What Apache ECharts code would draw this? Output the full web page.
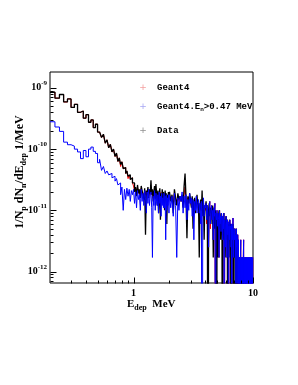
<!DOCTYPE html>
<html><head><meta charset="utf-8">
<script src="https://cdn.jsdelivr.net/npm/echarts@6/dist/echarts.min.js"></script>
<style>html,body{margin:0;padding:0;background:#fff}#c{width:298px;height:385px}</style>
</head><body><div id="c"></div>
<script>
// histogram binning: [from, to, width] in MeV
const binSegments = [[0.2, 1.0, 0.02], [1.0, 2.0, 0.02], [2.0, 10.0, 0.05]];
const valueUnit = 1e-12; // values below are in units of 1e-12 per MeV

// Geant4 (all)
const geant4All = [
  // 0.20 - 0.98
  850,680,780,590,660,480,540,400,420,320,365,275,300,225,255,190,200,155,175,125,
  142,105,120,90,100,76,86,63,72,52,62,48,50,40,44,33,38,32,34,28,
  // 1.00 - 1.98
  25,21,22,18,24,19,21,17,23,20, 19,17,21,18,20,17,22,17,20,18,
  24,18,20,16,19,22,16,22,18,15, 19,14,17,20,13,18,16,20,15,18,
  16,13,19,15,17,12,17,14,18,15,
  // 2.00 - 9.95
  18,15,17,12,19,15,13,17,14,16, 14,17,12,18,24,15,10,16,13,17,
  14,12,15,9,13,15,10,13,15,12, 13,8,12,12,10,14,9,12,8,12,
  10,13,6,12,8,2.5,11,14,5,10, 12,7,10,3.3,11,8,13,0,9,6,
  10,5,9,7,1.7,10,6,8,4,9, 7,3.3,8,5,9,0,7,6,2.5,8,
  6,1.7,7,4,6.5,0,5.5,3.3,7,5, 5,2.5,6,0,5.5,3.3,7.5,1.7,4.5,5,
  3.3,5,1.7,4,0,5,2.5,3.3,0,4, 1.7,3.3,0,1.7,0,1.7,0,1.7,3.3,0,
  1.7,0,1.7,0,1.7,0,1.7,3.3,0,1.7, 0,1.7,0,1.7,0,1.7,0,1.7,0,1.7,
  0,1.7,0,1.7,0,1.7,0,1.7,0,1.7, 0,1.7,0,1.7,0,1.7,0,1.7,0,1.7
];
// Geant4, E_n > 0.47 MeV
const geant4En = [
  // 0.20 - 0.98
  280,230,195,130,118,112,100,90,70,95,75,100,108,92,85,60,68,45,52,40,
  44,38,40,34,36,30,33,26,28,18,24,10,22,15,23,17,22,14,21,18,
  // 1.00 - 1.98
  22,13,20,11,21,15,18,10,22,14, 19,12,21,16,9,20,13,22,12,18,
  20,11,1.7,17,12,21,10,19,14,12, 18,9,20,13,17,8,19,12,16,11,
  19,11,17,3.3,18,10,16,12,18,9,
  // 2.00 - 9.95
  18,11,17,8,19,12,1.7,16,10,17, 14,20,9,17,11,18,7,15,10,19,
  13,16,8,15,3.3,14,10,17,9,13, 15,9,13,6,14,0,11,16,8,12,
  11,13,7,12,8,2.5,11,14,6,10, 12,7,10,3.3,11,8,13,0,9,7,
  10,5.5,9,7,1.7,10,6,8,4.5,9, 7.5,3.3,8,5,9,0,7,6,2.5,8,
  6.5,1.7,7,4,6.5,0,5.5,3.3,7,5, 5.5,2.5,6,0,5.5,3.3,7.5,1.7,4.5,5,
  3.3,5,1.7,4,0,5,2.5,3.3,0,4, 1.7,3.3,0,1.7,0,1.7,0,1.7,3.3,0,
  1.7,0,1.7,0,1.7,0,1.7,3.3,0,1.7, 0,1.7,0,1.7,0,1.7,0,1.7,0,1.7,
  0,1.7,0,1.7,0,1.7,0,1.7,0,1.7, 0,1.7,0,1.7,0,1.7,0,1.7,0,1.7
];
// Data
const dataMeas = [
  // 0.20 - 0.98
  850,680,780,590,660,480,540,400,420,320,365,275,300,225,255,190,200,155,175,125,
  142,105,120,90,100,76,86,63,72,56,62,48,50,40,44,36,38,32,34,28,
  // 1.00 - 1.98
  28,20,24,17,26,19,22,16,25,21, 20,15,23,4,21,18,24,16,22,19,
  31,18,22,14,20,25,15,27,19,12, 21,9,18,23,7,19,16,22,13,20,
  17,10,21,15,19,6,18,14,20,16,
  // 2.00 - 9.95
  20,14,18,9,22,16,12,19,15,17, 14,18,11,25,40,16,3.5,17,13,19,
  15,11,17,5,14,16,9,13,18,12, 13,1.7,12,15,10,21,8,13,3.3,12,
  11,14,7,12,0,10,13,8,11,9, 10,6,12,1.7,9,11,5,10,8,0,
  9,7,1.7,8,10,5,9,3.3,8,6, 8,0,7,6,9,3.3,7,1.7,6,8,
  6.5,3.3,7,0,6,5,1.7,7,4,6, 5.5,0,6,3.3,5,1.7,6,0,5,3.3,
  5,1.7,4,0,3.3,5,0,1.7,4,0, 1.7,0,0,1.7,0,0,1.7,0,0,0,
  0,0,1.7,0,0,0,0,1.7,0,0, 0,0,0,0,1.7,0,0,0,0,0,
  0,0,0,0,0,0,0,0,0,0, 0,0,0,0,0,0,0,0,0,0
];

const xRange = [0.2, 10];
const yRange = [6.5e-13, 1.82e-9];
const xMajorTicks = [1, 10];
const xMinorTicks = [0.3,0.4,0.5,0.6,0.7,0.8,0.9,2,3,4,5,6,7,8,9];
const yMajorTicks = [1e-12, 1e-11, 1e-10, 1e-9];
const yMinorTicks = [7e-13,8e-13,9e-13,
  2e-12,3e-12,4e-12,5e-12,6e-12,7e-12,8e-12,9e-12,
  2e-11,3e-11,4e-11,5e-11,6e-11,7e-11,8e-11,9e-11,
  2e-10,3e-10,4e-10,5e-10,6e-10,7e-10,8e-10,9e-10];
const legendNames = ['Geant4', 'Geant4.E{s|n}>0.47 MeV', 'Data'];
const seriesColors = ['#ff0000', '#0000ff', '#000000'];
const legendMarkColors = ['#f4a0a0', '#a8a8f4', '#909090'];

// bin edges
const edges = [];
binSegments.forEach(([a, b, w], si) => {
  const n = Math.round((b - a) / w);
  for (let i = 0; i < n; i++) edges.push(Math.round((a + i * w) * 10000) / 10000);
  if (si === binSegments.length - 1) edges.push(b);
});

function histPoints(vals) {
  const pts = [];
  for (let i = 0; i < vals.length; i++) {
    const v = vals[i] > 0 ? vals[i] * valueUnit : 1e-16;
    pts.push([edges[i], v], [edges[i + 1], v]);
  }
  return pts;
}

const serif = 'Liberation Serif';
const mono = 'Liberation Mono';

function tickSeries(list, isX, len) {
  return {
    type: 'custom', coordinateSystem: 'cartesian2d', silent: true, clip: false, z: 10,
    data: list.map(v => isX ? [v, yRange[0]] : [xRange[0], v]),
    renderItem: (params, api) => {
      const p = api.coord([api.value(0), api.value(1)]);
      const x = Math.round(p[0]) + 0.5, y = Math.round(p[1]) + 0.5;
      return {
        type: 'line',
        shape: isX ? {x1: x, y1: y, x2: x, y2: y - len} : {x1: x, y1: y, x2: x + len, y2: y},
        style: {stroke: '#000', lineWidth: 1}
      };
    }
  };
}

const chart = echarts.init(document.getElementById('c'), null, {renderer: 'canvas'});
const subRich = {s: {fontFamily: serif, fontWeight: 'bold', fontSize: 8, padding: [7, 0, 0, 0]}};

const graphic = [
  {type: 'text', x: 20, y: 172, rotation: Math.PI / 2,
   style: {text: '1/N{s|p} dN{s|n}/dE{s|dep} 1/MeV', fontFamily: serif, fontWeight: 'bold', fontSize: 12,
           fill: '#000', align: 'center', verticalAlign: 'middle', rich: subRich}},
  {type: 'text', x: 127, y: 304,
   style: {text: 'E{s|dep}  MeV', fontFamily: serif, fontWeight: 'bold', fontSize: 11,
           fill: '#000', align: 'left', verticalAlign: 'middle', rich: subRich}}
];
const legendY = [88, 107, 131];
legendNames.forEach((name, i) => {
  graphic.push({type: 'text', x: 143, y: legendY[i],
    style: {text: '+', fontFamily: 'DejaVu Sans', fontSize: 9, fill: legendMarkColors[i], align: 'center', verticalAlign: 'middle'}});
  graphic.push({type: 'text', x: 157, y: legendY[i],
    style: {text: name, fontFamily: mono, fontWeight: 'bold', fontSize: 9, fill: '#000', align: 'left', verticalAlign: 'middle',
            rich: {s: {fontFamily: mono, fontWeight: 'bold', fontSize: 6, padding: [5, 0, 0, 0]}}}});
});

chart.setOption({
  animation: false,
  grid: {left: 50, top: 72, right: 45, bottom: 102, show: true, borderColor: '#000', borderWidth: 1, backgroundColor: 'transparent'},
  xAxis: {
    type: 'log', logBase: 10, min: xRange[0], max: xRange[1],
    axisLine: {show: false}, axisTick: {show: false}, splitLine: {show: false}, minorTick: {show: false},
    axisLabel: {
      margin: 5, color: '#000', fontFamily: serif, fontWeight: 'bold', fontSize: 10, showMinLabel: true, showMaxLabel: true,
      formatter: v => { const e = Math.log10(v); return Math.abs(e - Math.round(e)) < 1e-6 ? String(Math.round(Math.pow(10, Math.round(e)))) : ''; }
    }
  },
  yAxis: {
    type: 'log', logBase: 10, min: yRange[0], max: yRange[1],
    axisLine: {show: false}, axisTick: {show: false}, splitLine: {show: false}, minorTick: {show: false},
    axisLabel: {
      margin: 3, color: '#000',
      formatter: v => { const e = Math.log10(v); const r = Math.round(e); return Math.abs(e - r) < 1e-6 ? '{b|10}{e|' + r + '}' : ''; },
      rich: {
        b: {fontFamily: serif, fontWeight: 'bold', fontSize: 10, color: '#000'},
        e: {fontFamily: serif, fontWeight: 'bold', fontSize: 7, color: '#000', padding: [0, 0, 9, 0]}
      }
    }
  },
  graphic: graphic,
  series: [
    {name: 'Geant4', type: 'line', data: histPoints(geant4All), showSymbol: false, lineStyle: {color: seriesColors[0], width: 1}, clip: true},
    {name: 'Data', type: 'line', data: histPoints(dataMeas), showSymbol: false, lineStyle: {color: seriesColors[2], width: 1.3}, clip: true},
    {name: 'Geant4 En>0.47 MeV', type: 'line', data: histPoints(geant4En), showSymbol: false, lineStyle: {color: seriesColors[1], width: 1}, clip: true},
    tickSeries(xMajorTicks, true, 6),
    tickSeries(xMinorTicks, true, 3),
    tickSeries(yMajorTicks, false, 6),
    tickSeries(yMinorTicks, false, 3)
  ]
});
</script></body></html>
